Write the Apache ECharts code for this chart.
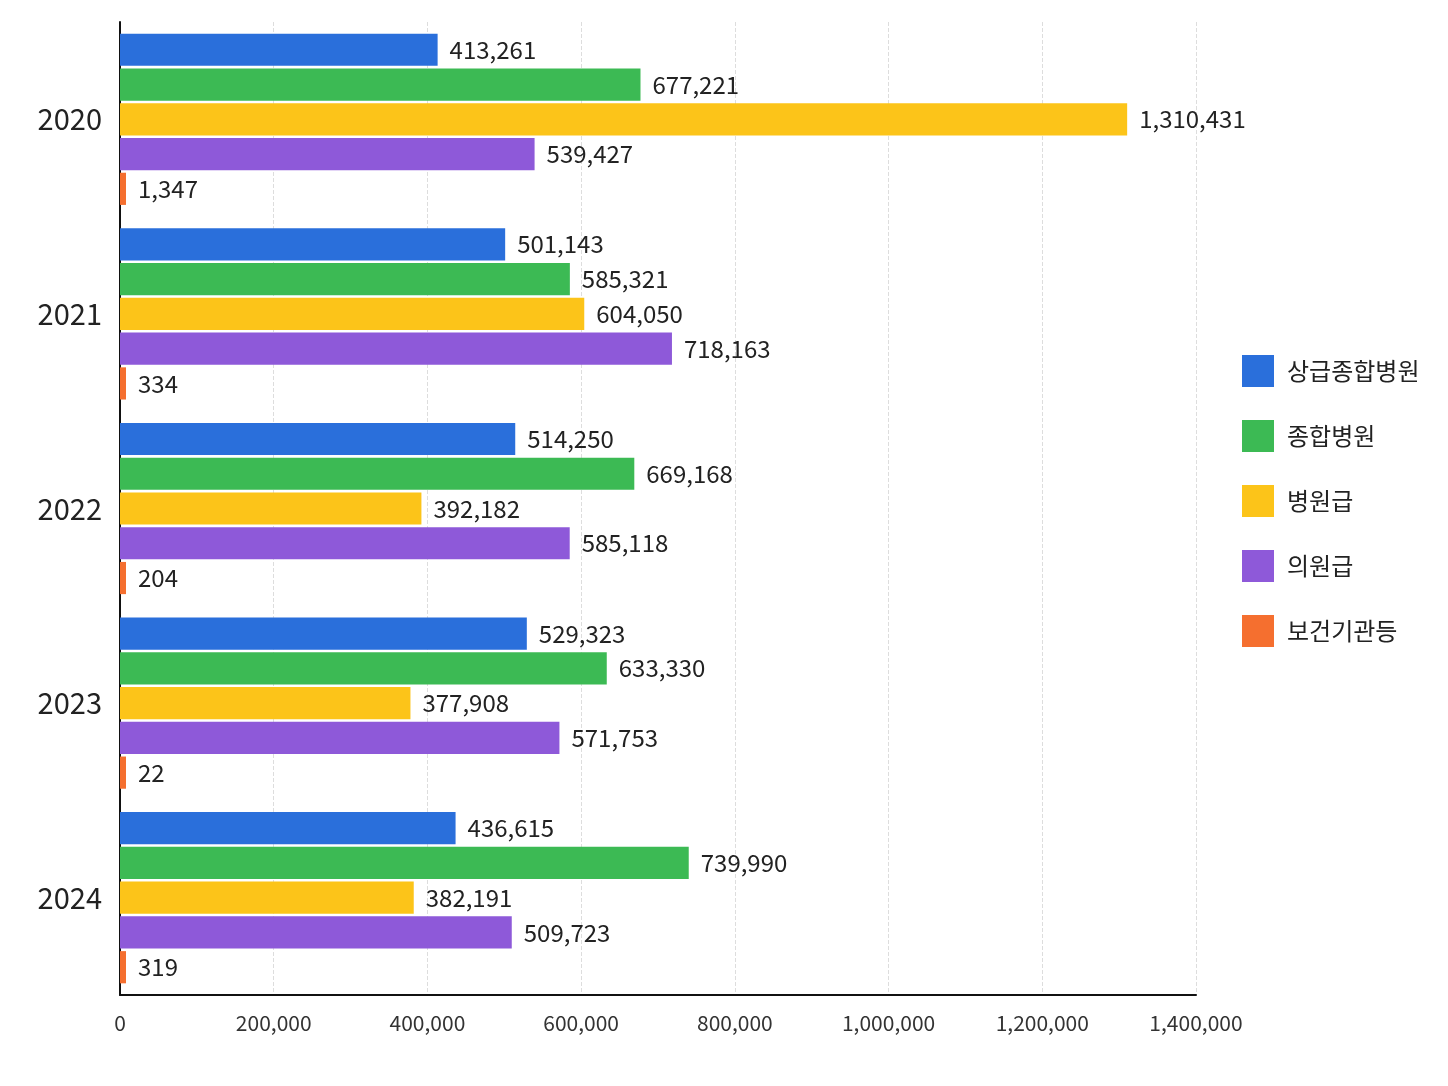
<!DOCTYPE html>
<html>
<head>
<meta charset="utf-8">
<script src="https://cdn.jsdelivr.net/npm/echarts@6/dist/echarts.min.js"></script>
<style>
  html, body { margin: 0; padding: 0; background: #fff; }
  #chart { width: 1448px; height: 1086px; }
</style>
</head>
<body>
<div id="chart"></div>
<script>
var years = ['2020', '2021', '2022', '2023', '2024']
var seriesNames = ['상급종합병원', '종합병원', '병원급', '의원급', '보건기관등']
var colors = ['#2a6fdb', '#3cba54', '#fcc419', '#8e59d9', '#f56f2f']
var tertiary = [413261, 501143, 514250, 529323, 436615]
var general = [677221, 585321, 669168, 633330, 739990]
var hospital = [1310431, 604050, 392182, 377908, 382191]
var clinic = [539427, 718163, 585118, 571753, 509723]
var publicHealth = [1347, 334, 204, 22, 319]
var allData = [tertiary, general, hospital, clinic, publicHealth]

var font = "'Noto Sans CJK KR', 'Noto Sans', sans-serif"

var seriesOpt = []
for (var i = 0; i < seriesNames.length; i++) {
  seriesOpt.push({
    name: seriesNames[i],
    type: 'bar',
    data: allData[i],
    barMinHeight: 6,
    barGap: '8%',
    barCategoryGap: '12%',
    itemStyle: { color: colors[i] },
    label: {
      show: true,
      position: 'right',
      distance: 12,
      color: '#222',
      fontSize: 24,
      fontFamily: font,
      formatter: function (p) { return p.value.toLocaleString('en-US') }
    }
  })
}

var option = {
  color: colors,
  legend: {
    orient: 'vertical',
    left: 1237,
    top: 350,
    itemWidth: 32,
    itemHeight: 32,
    itemGap: 33,
    icon: 'rect',
    data: seriesNames,
    textStyle: { fontSize: 24, color: '#222', fontFamily: font, padding: [0, 0, 0, 8] }
  },
  grid: { left: 120, right: 252, top: 22, bottom: 91 },
  xAxis: {
    type: 'value',
    min: 0,
    max: 1400000,
    interval: 200000,
    axisLine: { show: true, lineStyle: { color: '#111', width: 2 } },
    axisTick: { show: false },
    axisLabel: {
      color: '#333',
      fontSize: 21,
      margin: 18,
      fontFamily: font,
      formatter: function (v) { return v.toLocaleString('en-US') }
    },
    splitLine: { show: true, lineStyle: { color: '#ddd', type: 'dashed' } }
  },
  yAxis: {
    type: 'category',
    inverse: true,
    data: years,
    axisLine: { show: true, lineStyle: { color: '#111', width: 2 } },
    axisTick: { show: false },
    axisLabel: { color: '#222', fontSize: 29, margin: 18, fontFamily: font }
  },
  series: seriesOpt
}

var myChart = echarts.init(document.getElementById('chart'))
myChart.setOption(option)
</script>
</body>
</html>
